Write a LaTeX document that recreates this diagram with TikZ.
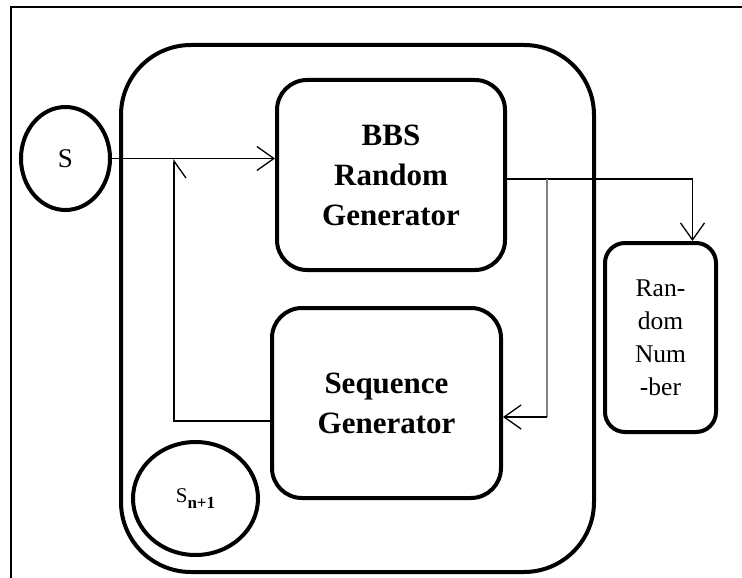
\documentclass[tikz,border=0pt]{standalone}
\usepackage{fontspec}
\setmainfont{Liberation Serif}
\usetikzlibrary{arrows.meta,shapes.geometric}

\begin{document}
\begin{tikzpicture}[x=1pt, y=-1pt,
  block/.style={draw, rectangle, line width=4pt, rounded corners=30pt, align=center, inner sep=0pt, font=\fontsize{31}{40}\selectfont\bfseries},
  seed/.style={draw, ellipse, line width=4pt, inner sep=0pt},
  link/.style={line width=1.3pt, -{Straight Barb[length=17pt,width=24pt]}}]
\useasboundingbox (0,0) rectangle (742,578);

% Frame
\draw[line width=1.5pt] (11,578) -- (11,7) -- (742,7);

% Outer unit
\node[block, minimum width=473pt, minimum height=527pt, rounded corners=70pt] (unit) at (357.5,308.5) {};

% BBS generator
\node[block, minimum width=228pt, minimum height=190pt] (bbs) at (391,175) {BBS\\Random\\Generator};

% Sequence generator
\node[block, minimum width=229pt, minimum height=190pt] (seq) at (386.5,403) {Sequence\\Generator};

% Output
\node[block, minimum width=111pt, minimum height=189pt, rounded corners=20pt, font=\fontsize{25.5}{33}\selectfont] (rnd) at (660.5,337.5) {Ran-\\dom\\Num\\-ber};

% Seeds
\node[seed, minimum width=89pt, minimum height=103pt, font=\fontsize{27}{27}\selectfont] (s) at (65.5,158.5) {S};
\node[seed, minimum width=125pt, minimum height=113pt, font=\fontsize{21}{21}\selectfont] (snext) at (195.5,498.5) {S\raisebox{-6pt}{\fontsize{17}{17}\selectfont\bfseries n+1}};

% Seed in
\draw[link] (s.east) -- (s.east -| bbs.west);

% Feedback
\coordinate (loop) at (174,159);
\draw[link, -{Straight Barb[right, length=17pt,width=24pt]}] ([yshift=-18pt]seq.west) -| (loop);

% Output arrow
\draw[link] ([yshift=-4pt]bbs.east) -| ([xshift=32pt]rnd.north);

% Tap to sequence generator
\coordinate (tap) at (547,179);
\coordinate (turn) at (547,417);
\draw[line width=1.3pt, gray] (tap) -- (turn);
\draw[link] (turn) -- (turn -| seq.east);
\end{tikzpicture}
\end{document}
